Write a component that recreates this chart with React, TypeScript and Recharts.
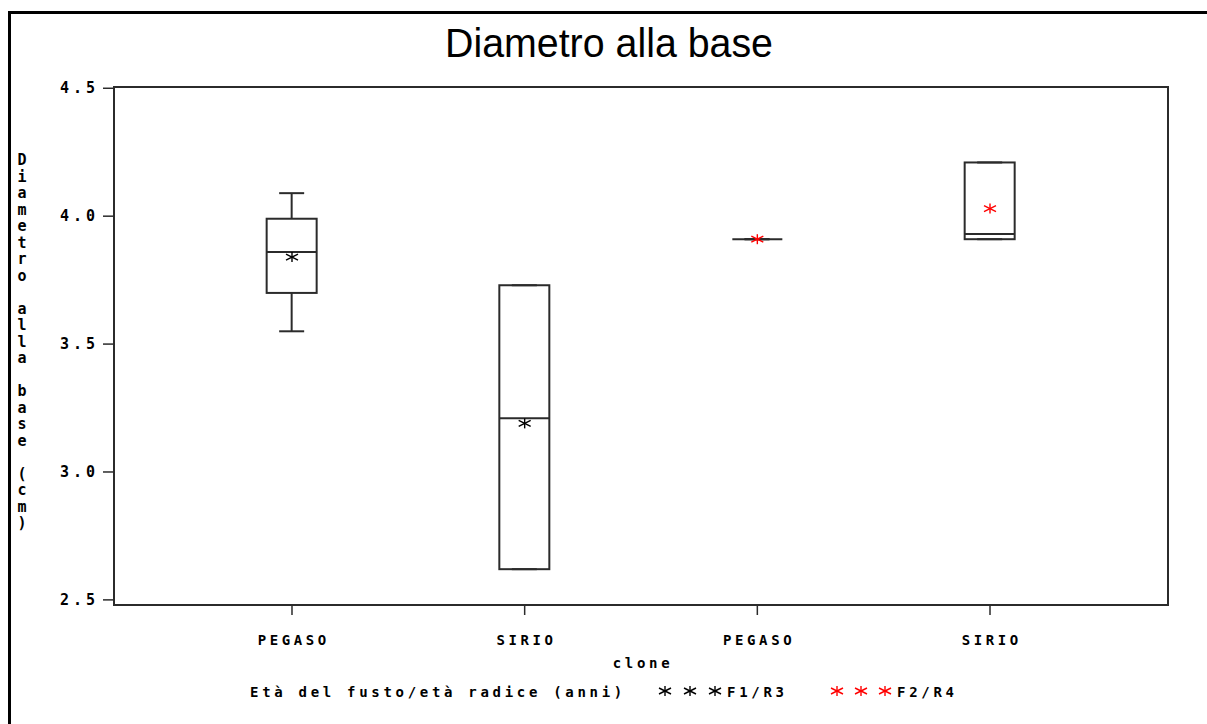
import React from "react";
import { ComposedChart, Bar, Scatter, XAxis, YAxis, ReferenceArea } from "recharts";

// box plot summary
const clones = ["PEGASO", "SIRIO", "PEGASO", "SIRIO"];
const ages = ["F1/R3", "F1/R3", "F2/R4", "F2/R4"];
const whiskerLow = [3.55, 2.62, 3.91, 3.91];
const q1 = [3.7, 2.62, 3.91, 3.91];
const median = [3.86, 3.21, 3.91, 3.93];
const q3 = [3.99, 3.73, 3.91, 4.21];
const whiskerHigh = [4.09, 3.73, 3.91, 4.21];
const means = [3.84, 3.19, 3.91, 4.03];
const yTicks = [2.5, 3.0, 3.5, 4.0, 4.5];
const xTicks = [1, 2, 3, 4];

const data = clones.map((clone, i) => ({
  pos: xTicks[i],
  clone,
  age: ages[i],
  base: whiskerLow[i],
  lowWhisker: q1[i] - whiskerLow[i],
  box: q3[i] - q1[i],
  highWhisker: whiskerHigh[i] - q3[i],
  median: median[i],
  mean: means[i],
}));

const AGE_COLORS: Record<string, string> = {
  "F1/R3": "#000000",
  "F2/R4": "#ff0000",
};

const LINE = "#2b2b2b";
const MONO = "'DejaVu Sans Mono', 'Liberation Mono', monospace";
const X_DOMAIN: [number, number] = [0.235, 4.765];
const Y_DOMAIN: [number, number] = [2.48, 4.505];
const yLabel = "Diametro alla base (cm)";

const Star = ({ cx, cy, color }: { cx: number; cy: number; color: string }) => (
  <g stroke={color} strokeWidth={1.4}>
    <line x1={cx} x2={cx} y1={cy - 5} y2={cy + 5} />
    <line x1={cx - 6} x2={cx + 6} y1={cy - 3} y2={cy + 3} />
    <line x1={cx - 6} x2={cx + 6} y1={cy + 3} y2={cy - 3} />
  </g>
);

const LowWhisker = (p: any) => {
  const cx = p.x + p.width / 2;
  const bottom = p.y + p.height;
  return (
    <g stroke={LINE} strokeWidth={2}>
      <line x1={cx} x2={cx} y1={p.y} y2={bottom} />
      <line x1={cx - 12.5} x2={cx + 12.5} y1={bottom} y2={bottom} />
    </g>
  );
};

const HighWhisker = (p: any) => {
  const cx = p.x + p.width / 2;
  return (
    <g stroke={LINE} strokeWidth={2}>
      <line x1={cx} x2={cx} y1={p.y} y2={p.y + p.height} />
      <line x1={cx - 12.5} x2={cx + 12.5} y1={p.y} y2={p.y} />
    </g>
  );
};

const BoxShape = (p: any) => (
  <rect x={p.x} y={p.y} width={p.width} height={Math.max(p.height, 0)} fill="none" stroke={LINE} strokeWidth={2} />
);

const MedianShape = (p: any) => (
  <line x1={p.cx - 25} x2={p.cx + 25} y1={p.cy} y2={p.cy} stroke={LINE} strokeWidth={2} />
);

const MeanShape = (p: any) => <Star cx={p.cx} cy={p.cy} color={AGE_COLORS[p.payload.age]} />;

const XTick = (p: any) => (
  <text x={p.x + 1.8} y={p.y} textAnchor="middle" dominantBaseline="central" fontFamily={MONO} fontWeight="bold" fontSize={14} letterSpacing={3.6} fill="#000">
    {clones[xTicks.indexOf(p.payload.value)]}
  </text>
);

const YTick = (p: any) => (
  <text x={p.x + 4} y={p.y} textAnchor="end" dominantBaseline="central" fontFamily={MONO} fontWeight="bold" fontSize={15} letterSpacing={4} fill="#000">
    {Number(p.payload.value).toFixed(1)}
  </text>
);

const textStyle = { fontFamily: MONO, fontWeight: "bold" as const, fontSize: 14, letterSpacing: 3.7, fill: "#000" };

export default function App() {
  return (
    <div style={{ position: "fixed", left: 0, top: 0, width: 1207, height: 724, overflow: "hidden", background: "#fff" }}>
      <ComposedChart
        width={1207}
        height={724}
        data={data}
        margin={{ top: 87, right: 39, bottom: 89, left: 0 }}
      >
        <XAxis
          dataKey="pos"
          type="number"
          domain={X_DOMAIN}
          ticks={xTicks}
          interval={0}
          height={30}
          tickSize={10}
          tickMargin={25}
          tick={<XTick />}
          tickLine={{ stroke: LINE, strokeWidth: 1.5 }}
          axisLine={{ stroke: LINE, strokeWidth: 2 }}
        />
        <YAxis
          width={114}
          domain={Y_DOMAIN}
          allowDataOverflow
          ticks={yTicks}
          tickSize={11}
          tickMargin={8}
          tick={<YTick />}
          tickLine={{ stroke: LINE, strokeWidth: 1.5 }}
          axisLine={{ stroke: LINE, strokeWidth: 2 }}
        />
        <ReferenceArea
          x1={X_DOMAIN[0]}
          x2={X_DOMAIN[1]}
          y1={Y_DOMAIN[0]}
          y2={Y_DOMAIN[1]}
          fill="none"
          fillOpacity={0}
          stroke={LINE}
          strokeWidth={2}
          ifOverflow="visible"
        />
        <Bar dataKey="base" stackId="bp" barSize={50} fill="none" stroke="none" isAnimationActive={false} />
        <Bar dataKey="lowWhisker" stackId="bp" barSize={50} shape={LowWhisker} isAnimationActive={false} />
        <Bar dataKey="box" stackId="bp" barSize={50} shape={BoxShape} isAnimationActive={false} />
        <Bar dataKey="highWhisker" stackId="bp" barSize={50} shape={HighWhisker} isAnimationActive={false} />
        <Scatter dataKey="median" shape={MedianShape} isAnimationActive={false} />
        <Scatter dataKey="mean" shape={MeanShape} isAnimationActive={false} />
      </ComposedChart>

      <svg width={1207} height={724} style={{ position: "absolute", left: 0, top: 0, pointerEvents: "none" }}>
        <path d="M 9.5 724 L 9.5 12.5 L 1207 12.5" fill="none" stroke="#000" strokeWidth={3} />
        <text x={445} y={57} fontFamily="'Liberation Sans', Arial, sans-serif" fontSize={40} textLength={328} lengthAdjust="spacingAndGlyphs" fill="#000">
          Diametro alla base
        </text>
        {yLabel.split("").map((ch, i) => (
          <text key={i} x={22} y={160 + i * 16.5} textAnchor="middle" dominantBaseline="central" fontFamily={MONO} fontWeight="bold" fontSize={15} fill="#000">
            {ch}
          </text>
        ))}
        <text x={643} y={663} textAnchor="middle" dominantBaseline="central" {...textStyle}>
          clone
        </text>
        <text x={250} y={692} dominantBaseline="central" {...textStyle}>
          Età del fusto/età radice (anni)
        </text>
        {[665, 690, 715].map((cx) => (
          <Star key={cx} cx={cx} cy={691} color={AGE_COLORS["F1/R3"]} />
        ))}
        <text x={727} y={692} dominantBaseline="central" {...textStyle}>
          F1/R3
        </text>
        {[837, 861, 885].map((cx) => (
          <Star key={cx} cx={cx} cy={691} color={AGE_COLORS["F2/R4"]} />
        ))}
        <text x={897} y={692} dominantBaseline="central" {...textStyle}>
          F2/R4
        </text>
      </svg>
    </div>
  );
}
